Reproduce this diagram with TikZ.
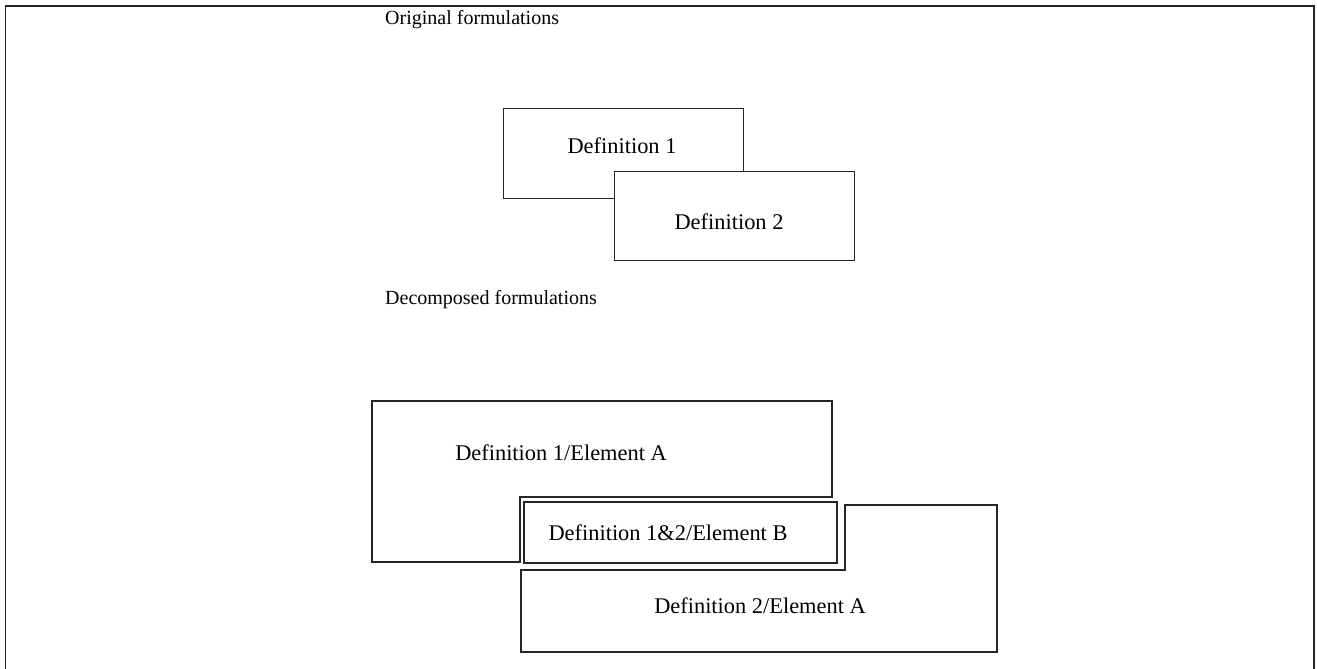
\documentclass[tikz,border=0pt]{standalone}
\usepackage{fontspec}
\setmainfont{Liberation Serif}
\begin{document}
\begin{tikzpicture}[x=1pt,y=-1pt,
  outline/.style={draw=black!85,line width=1.4pt,line join=miter},
  label/.style={inner sep=0pt,font=\fontsize{22.4}{26}\selectfont},
  heading/.style={inner sep=0pt,anchor=west,font=\fontsize{20}{24}\selectfont},
  defbox/.style={outline,fill=white,rectangle,inner sep=0pt,anchor=north west}]
\useasboundingbox (0,0) rectangle (1317,669);
% open frame around the figure
\draw[outline] (5.5,669) -- (5.5,6) -- (1314,6) -- (1314,669);

% original formulations
\node[heading] (h1) at (385,20) {Original formulations};
\node[defbox,minimum width=240pt,minimum height=90pt] (d1) at (503,108) {};
\node[label] (t1) at (622,146) {Definition 1};
\node[defbox,minimum width=240pt,minimum height=89pt] (d2) at (614,171) {};
\node[label] (t2) at (729,222) {Definition 2};

% decomposed formulations
\node[heading] (h2) at (385,300) {Decomposed formulations};
\coordinate (a1) at (372,401);
\coordinate (a2) at (997,652);
\draw[outline] (a1) -- (832,401) -- (832,497) -- (520,497) -- (520,562) -- (372,562) -- cycle;
\draw[outline] (a2) -- (521,652) -- (521,570) -- (845,570) -- (845,505) -- (997,505) -- cycle;
\draw[outline] (524,502) rectangle (837,563);
\node[label] (ta) at (561,453) {Definition 1/Element A};
\node[label] (tb) at (668,533) {Definition 1\&2/Element B};
\node[label] (tc) at (760,606) {Definition 2/Element A};
\end{tikzpicture}
\end{document}
